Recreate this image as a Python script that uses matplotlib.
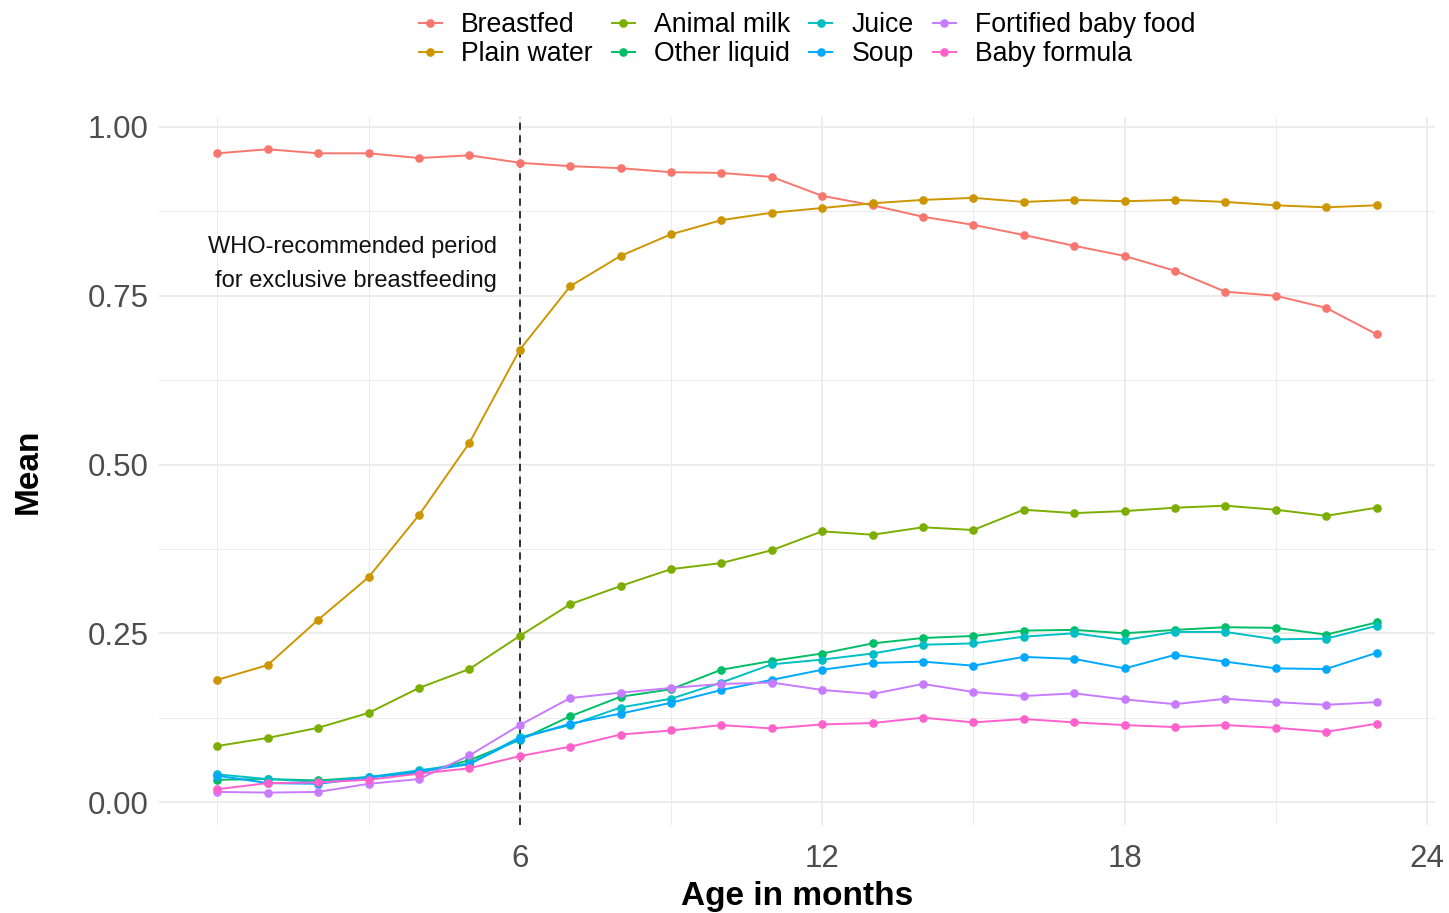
import matplotlib
matplotlib.use("Agg")
import matplotlib.pyplot as plt
from matplotlib.ticker import FixedLocator, FormatStrFormatter

plt.rcParams["font.family"] = ["Liberation Sans", "DejaVu Sans"]

months = list(range(0, 24))

breastfed = [0.961, 0.967, 0.961, 0.961, 0.954, 0.958, 0.947, 0.942, 0.939, 0.933,
             0.932, 0.926, 0.898, 0.884, 0.867, 0.855, 0.840, 0.824, 0.809, 0.787,
             0.756, 0.750, 0.732, 0.693]
plain_water = [0.181, 0.203, 0.270, 0.333, 0.425, 0.532, 0.670, 0.764, 0.809, 0.841,
               0.862, 0.873, 0.880, 0.887, 0.892, 0.895, 0.889, 0.892, 0.890, 0.892,
               0.889, 0.884, 0.881, 0.884]
animal_milk = [0.083, 0.095, 0.110, 0.132, 0.169, 0.197, 0.246, 0.293, 0.320, 0.345,
               0.354, 0.373, 0.401, 0.396, 0.407, 0.403, 0.433, 0.428, 0.431, 0.436,
               0.439, 0.433, 0.424, 0.436]
other_liquid = [0.033, 0.034, 0.032, 0.037, 0.043, 0.062, 0.092, 0.127, 0.156, 0.167,
                0.196, 0.209, 0.220, 0.235, 0.243, 0.246, 0.254, 0.255, 0.250, 0.255,
                0.259, 0.258, 0.248, 0.266]
juice = [0.041, 0.034, 0.030, 0.037, 0.047, 0.057, 0.096, 0.114, 0.140, 0.153,
         0.177, 0.204, 0.211, 0.220, 0.233, 0.235, 0.245, 0.250, 0.240, 0.252,
         0.252, 0.241, 0.242, 0.261]
soup = [0.039, 0.028, 0.027, 0.036, 0.045, 0.056, 0.094, 0.116, 0.131, 0.147,
        0.166, 0.181, 0.196, 0.206, 0.208, 0.202, 0.215, 0.212, 0.198, 0.218,
        0.208, 0.198, 0.197, 0.221]
fortified = [0.015, 0.014, 0.015, 0.027, 0.034, 0.069, 0.114, 0.154, 0.162, 0.169,
             0.175, 0.177, 0.166, 0.160, 0.175, 0.163, 0.157, 0.161, 0.152, 0.145,
             0.153, 0.148, 0.144, 0.148]
formula = [0.019, 0.028, 0.029, 0.033, 0.042, 0.050, 0.068, 0.082, 0.100, 0.106,
           0.114, 0.109, 0.115, 0.117, 0.125, 0.118, 0.123, 0.118, 0.114, 0.111,
           0.114, 0.110, 0.104, 0.116]

labels = ["Breastfed", "Plain water", "Animal milk", "Other liquid",
          "Juice", "Soup", "Fortified baby food", "Baby formula"]
series = [breastfed, plain_water, animal_milk, other_liquid,
          juice, soup, fortified, formula]
# ggplot default hue palette for 8 groups
colors = ["#F8766D", "#CD9600", "#7CAE00", "#00BE67",
          "#00BFC4", "#00A9FF", "#C77CFF", "#FF61CC"]

fig = plt.figure(figsize=(14.49, 9.13), dpi=100)
ax = fig.add_axes([0.110, 0.0964, 0.880, 0.7756])

for lab, vals, col in zip(labels, series, colors):
    ax.plot(months, vals, color=col, linewidth=1.4, marker="o",
            markersize=5.2, label=lab, zorder=3)

ax.axvline(6, color="#222222", linestyle=(0, (4, 3)), linewidth=1.3, zorder=2)
ax.text(5.55, 0.797, "WHO-recommended period\nfor exclusive breastfeeding",
        ha="right", va="center", fontsize=17, color="#111111",
        linespacing=1.7)

ax.set_xlim(-1.15, 24.15)
ax.set_ylim(-0.034, 1.015)
ax.xaxis.set_major_locator(FixedLocator([6, 12, 18, 24]))
ax.xaxis.set_minor_locator(FixedLocator([0, 3, 9, 15, 21]))
ax.yaxis.set_major_locator(FixedLocator([0, 0.25, 0.5, 0.75, 1.0]))
ax.yaxis.set_minor_locator(FixedLocator([0.125, 0.375, 0.625, 0.875]))
ax.yaxis.set_major_formatter(FormatStrFormatter("%.2f"))

ax.grid(True, which="major", color="#EBEBEB", linewidth=1.3, zorder=0)
ax.grid(True, which="minor", color="#EBEBEB", linewidth=0.7, zorder=0)
ax.set_axisbelow(True)
for s in ax.spines.values():
    s.set_visible(False)
ax.tick_params(which="both", length=0)
ax.tick_params(axis="both", labelsize=22.5, colors="#4D4D4D")
ax.tick_params(axis="x", pad=14)
ax.tick_params(axis="y", pad=8)

ax.set_xlabel("Age in months", fontsize=24, fontweight="bold", labelpad=5)
ax.set_ylabel("Mean", fontsize=24, fontweight="bold", labelpad=31)

fig.legend(loc="upper center", bbox_to_anchor=(0.557, 1.0045), ncol=4,
           frameon=False, fontsize=19.2, handlelength=0.87, handletextpad=0.71,
           columnspacing=0.72, labelspacing=0.12, borderaxespad=0.2)

fig.savefig("out.png", dpi=100)
